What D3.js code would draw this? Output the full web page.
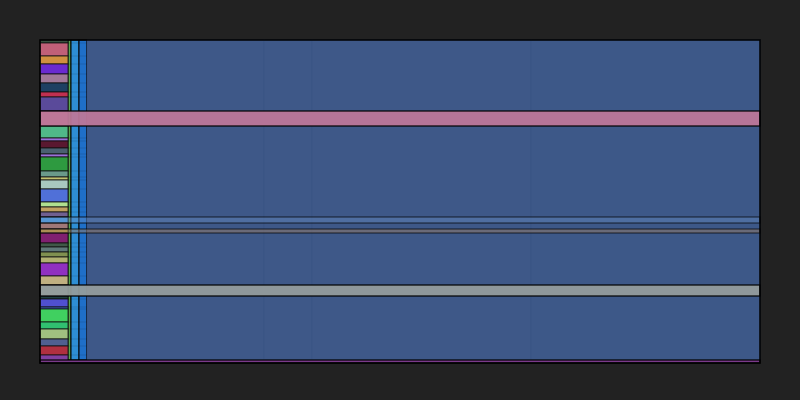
<!DOCTYPE html>
<html>
<head>
<meta charset="utf-8">
<script src="https://cdn.jsdelivr.net/npm/d3@7"></script>
<style>
  body { margin: 0; background: #222222; }
</style>
</head>
<body>
<div id="chart"></div>
<script>
// leaf stack (left column), top to bottom
const leafNames = [
  "l01","l02","l03","l04","l05","l06","l07","l08","l09","l10",
  "l11","l12","l13","l14","l15","l16","l17","l18","l19","l20",
  "l21","l22","l23","l24","l25","l26","l27","l28","l29","l30",
  "l31","l32","l33","l34","l35","l36","l37","l38","l39","l40","l41","l42"
];
const leafValues = [
  3, 13, 8, 10, 9, 9, 5, 14, 15, 12,
  3, 7, 6, 3, 14, 6, 3, 9, 13, 5,
  5, 5, 6, 6, 4, 10, 4, 5, 5, 6,
  13, 9, 11, 3, 8, 2, 13, 7, 10, 7, 9, 8
];
const leafColors = [
  "#3a5040","#c06078","#d09040","#6a2ad0","#a07898","#1e4062","#c03050","#5a4a9a","#c07090","#50b888",
  "#9a70d8","#5a1830","#4a6070","#9a70d8","#2e9a40","#6a9a8a","#c0c070","#a8c8c0","#5070d8","#b0e090",
  "#c0a060","#706090","#4a98d8","#a07878","#c0a040","#802070","#405848","#607878","#809050","#b0b070",
  "#9030c0","#c0b080","#a0a8a0","#204040","#5050d0","#4060c0","#40d060","#30c070","#a0c080","#506090","#b03040","#8040a0"
];

// columns left to right
const columnNames = ["leaves", "group", "subA", "subB", "main"];
const columnValues = [28, 3, 8, 8, 673];
const columnColors = [null, "#5aa850", "#2e8ed4", "#1f6fc8", "#3e5888"];
const columnHeight = 320;

// faint split of the main column
const mainParts = [177, 48, 219, 229];
const mainPartOpacity = [1, 0.97, 1, 0.99];

// full-width bands
const bandNames = ["pink", "sky", "gold", "grey", "purple"];
const bandStarts = [71, 177, 189, 245, 320];
const bandValues = [15, 6, 4, 11, 3];
const bandColors = ["#bd7799", "#6a90c8", "#967c68", "#949c9c", "#7a3a8a"];
const bandOpacity = [0.95, 0.4, 0.5, 0.95, 1];

const w = 800;
const h = 400;
const margin = { top: 40, right: 40, bottom: 37, left: 40 };

const svg = d3.select("#chart").append("svg")
  .attr("width", w)
  .attr("height", h);

svg.append("rect")
  .attr("width", w).attr("height", h)
  .attr("fill", "#222222");

const x = d3.scaleLinear()
  .domain([0, d3.sum(columnValues)])
  .range([margin.left, w - margin.right]);

const y = d3.scaleLinear()
  .domain([0, d3.sum(leafValues)])
  .range([margin.top, h - margin.bottom]);

const colStart = [0, ...d3.cumsum(columnValues)];
const leafStart = [0, ...d3.cumsum(leafValues)];

const g = svg.append("g");

// base columns
g.selectAll("rect.col")
  .data(columnNames.slice(1).map((name, i) => ({ name, i: i + 1 })))
  .enter()
  .append("rect")
  .attr("class", "col")
  .attr("x", (d) => x(colStart[d.i]))
  .attr("y", y(0))
  .attr("width", (d) => x(colStart[d.i + 1]) - x(colStart[d.i]))
  .attr("height", y(columnHeight) - y(0))
  .attr("fill", (d) => columnColors[d.i])
  .attr("stroke", "#000")
  .attr("stroke-width", 1);

// faint sub-cells in main column
const partStart = [0, ...d3.cumsum(mainParts)];
g.selectAll("rect.part")
  .data(mainParts)
  .enter()
  .append("rect")
  .attr("class", "part")
  .attr("x", (d, i) => x(colStart[4] + partStart[i]))
  .attr("y", y(0))
  .attr("width", (d) => x(d) - x(0))
  .attr("height", y(columnHeight) - y(0))
  .attr("fill", columnColors[4])
  .attr("fill-opacity", (d, i) => mainPartOpacity[i])
  .attr("stroke", "#3a5484")
  .attr("stroke-width", 0.6);

// faint echo of leaf boundaries over the inner columns
g.selectAll("line.echo")
  .data(leafStart.slice(1, -1).filter((v) => v < columnHeight))
  .enter()
  .append("line")
  .attr("class", "echo")
  .attr("x1", x(colStart[1]))
  .attr("x2", x(colStart[4]))
  .attr("y1", (d) => y(d))
  .attr("y2", (d) => y(d))
  .attr("stroke", "#000")
  .attr("stroke-opacity", 0.12)
  .attr("stroke-width", 1);

// leaves
g.selectAll("rect.leaf")
  .data(leafNames.map((name, i) => ({ name, value: leafValues[i], i })))
  .enter()
  .append("rect")
  .attr("class", "leaf")
  .attr("x", x(colStart[0]))
  .attr("y", (d) => y(leafStart[d.i]))
  .attr("width", x(colStart[1]) - x(colStart[0]))
  .attr("height", (d) => y(d.value) - y(0))
  .attr("fill", (d) => leafColors[d.i])
  .attr("stroke", "#111")
  .attr("stroke-width", 0.8);

// bands
g.selectAll("rect.band")
  .data(bandNames.map((name, i) => ({ name, i })))
  .enter()
  .append("rect")
  .attr("class", "band")
  .attr("x", x(0))
  .attr("y", (d) => y(bandStarts[d.i]))
  .attr("width", x(d3.sum(columnValues)) - x(0))
  .attr("height", (d) => y(bandValues[d.i]) - y(0))
  .attr("fill", (d) => bandColors[d.i])
  .attr("fill-opacity", (d) => bandOpacity[d.i])
  .attr("stroke", "#000")
  .attr("stroke-opacity", (d) => (bandOpacity[d.i] < 0.9 ? 0.6 : 1))
  .attr("stroke-width", 1.2);

// outer frame
svg.append("rect")
  .attr("x", x(0))
  .attr("y", y(0))
  .attr("width", x(d3.sum(columnValues)) - x(0))
  .attr("height", y(d3.sum(leafValues)) - y(0))
  .attr("fill", "none")
  .attr("stroke", "#000")
  .attr("stroke-width", 1.5);
</script>
</body>
</html>
